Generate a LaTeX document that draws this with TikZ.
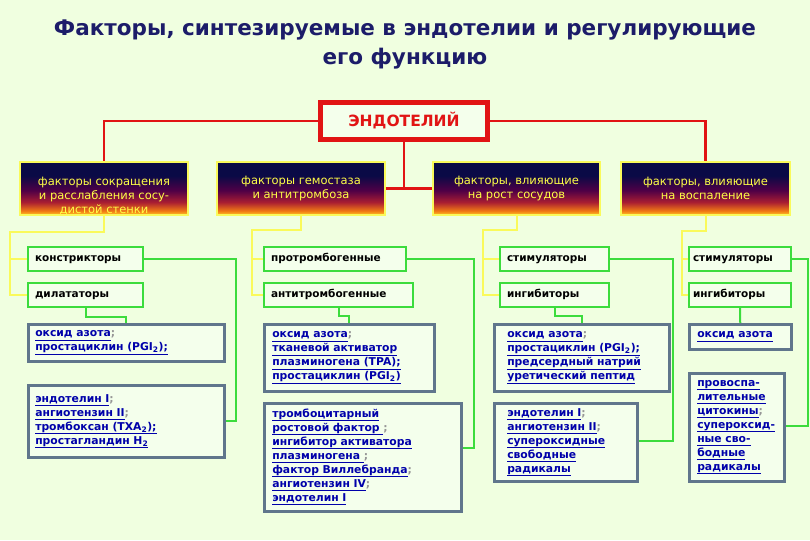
\documentclass[tikz,border=0pt]{standalone}
\usepackage{fontspec}
\setmainfont{DejaVu Sans}
\definecolor{bg}{RGB}{240,255,224}
\definecolor{boxfill}{RGB}{244,255,236}
\definecolor{titleblue}{RGB}{28,28,105}
\definecolor{redln}{RGB}{225,20,20}
\definecolor{yelln}{RGB}{250,250,90}
\definecolor{grnln}{RGB}{60,220,60}
\definecolor{bluebd}{RGB}{96,118,140}
\definecolor{linkblue}{RGB}{0,0,170}
\definecolor{semigray}{RGB}{150,150,150}
\definecolor{hdrtext}{RGB}{255,255,70}
\definecolor{hY}{RGB}{255,200,40}
\definecolor{hO}{RGB}{240,120,20}
\definecolor{hR}{RGB}{170,30,50}
\definecolor{hP}{RGB}{80,0,70}
\definecolor{hN}{RGB}{10,10,70}
\pgfdeclareverticalshading{hdrshade}{100bp}{color(0bp)=(hY); color(25bp)=(hY); color(29bp)=(hO); color(37bp)=(hR); color(48bp)=(hP); color(62bp)=(hN); color(75bp)=(hN); color(100bp)=(hN)}
\newcommand\lnk[1]{\leavevmode\setbox0\hbox{#1}\dp0=2.4pt\vtop{\box0\kern0.3pt\hrule height 1pt}}
\newcommand\sep{\textcolor{semigray}{;}}
\begin{document}
\begin{tikzpicture}[x=1pt,y=-1pt,
  titlestyle/.style={font=\bfseries\fontsize{21.5}{29}\selectfont, text=titleblue, align=center},
  endobox/.style={draw=redln, line width=5pt, fill=boxfill, minimum width=167pt, minimum height=37pt, font=\bfseries\fontsize{15.5}{17}\selectfont, text=redln, inner sep=0pt},
  hdr/.style={draw=yelln, line width=1.5pt, shading=hdrshade, minimum height=53pt, inner sep=0pt, text=hdrtext, align=center, font=\fontsize{11.5}{14}\selectfont},
  subbox/.style={draw=grnln, line width=2pt, fill=boxfill, anchor=north west, minimum height=24pt, inner ysep=0pt, inner xsep=7pt, text height=7pt, text depth=2.5pt, align=left, font=\bfseries\fontsize{10.5}{13}\selectfont},
  bluebox/.style={draw=bluebd, line width=2.5pt, fill=boxfill, anchor=north west, inner ysep=0pt, inner xsep=7pt, align=left, text=linkblue, font=\bfseries\fontsize{10.8}{14}\selectfont},
  redc/.style={draw=redln, line width=2.5pt},
  yelc/.style={draw=yelln, line width=2pt},
  grnc/.style={draw=grnln, line width=2pt}
]
\path[fill=bg] (0,0) rectangle (810,540);
\useasboundingbox (0,0) rectangle (810,540);

\node[titlestyle] (title) at (405,44) {Факторы, синтезируемые в эндотелии и регулирующие\\его функцию};

\node[endobox] (E) at (404,121) {ЭНДОТЕЛИЙ};

\node[hdr, minimum width=168pt, text height=51pt] (H1) at (104,188.5) {факторы сокращения\\и расслабления сосу-\\дистой стенки};
\node[hdr, minimum width=168pt] (H2) at (301,188.5) {факторы гемостаза\\и антитромбоза};
\node[hdr, minimum width=167pt] (H3) at (516.5,188.5) {факторы, влияющие\\на рост сосудов};
\node[hdr, minimum width=169pt] (H4) at (705.5,188.5) {факторы, влияющие\\на воспаление};

% sub boxes
\node[subbox, text width=101pt] (s11) at (27,246) {констрикторы};
\node[subbox, text width=101pt] (s12) at (27,282) {дилататоры};
\node[subbox, text width=128pt] (s21) at (263,246) {протромбогенные};
\node[subbox, text width=135pt] (s22) at (263,282) {антитромбогенные};
\node[subbox, text width=95pt] (s31) at (499,246) {стимуляторы};
\node[subbox, text width=95pt] (s32) at (499,282) {ингибиторы};
\node[subbox, inner xsep=4pt, text width=94pt] (s41) at (688,246) {стимуляторы};
\node[subbox, inner xsep=4pt, text width=94pt] (s42) at (688,282) {ингибиторы};

% blue boxes
\node[bluebox, text width=182pt, minimum height=37pt] (b11) at (27,323) {\lnk{оксид азота}\sep\\\lnk{простациклин (PGI\textsubscript{2});}};
\node[bluebox, text width=182pt, minimum height=72pt] (b12) at (27,384) {\lnk{эндотелин I}\sep\\\lnk{ангиотензин II}\sep\\\lnk{тромбоксан (TXA\textsubscript{2});}\\\lnk{простагландин H\textsubscript{2}}};
\node[bluebox, inner xsep=8pt, text width=154pt, minimum height=67pt] (b21) at (263,323) {\lnk{оксид азота}\sep\\\lnk{тканевой активатор}\\\lnk{плазминогена (TPA);}\\\lnk{простациклин (PGI\textsubscript{2})}};
\node[bluebox, inner xsep=8pt, text width=181pt, minimum height=108pt] (b22) at (263,402) {\lnk{тромбоцитарный}\\\lnk{ростовой фактор }\sep\\\lnk{ингибитор активатора}\\\lnk{плазминогена }\sep\\\lnk{фактор Виллебранда}\sep\\\lnk{ангиотензин IV}\sep\\\lnk{эндотелин I}};
\node[bluebox, inner xsep=13pt, text width=149pt, minimum height=67pt] (b31) at (493,323) {\lnk{оксид азота}\sep\\\lnk{простациклин (PGI\textsubscript{2});}\\\lnk{предсердный натрий}\\\lnk{уретический пептид}};
\node[bluebox, inner xsep=13pt, text width=117pt, minimum height=78pt] (b32) at (493,402) {\lnk{эндотелин I}\sep\\\lnk{ангиотензин II}\sep\\\lnk{супероксидные}\\\lnk{свободные}\\\lnk{радикалы}};
\node[bluebox, inner xsep=8pt, text width=86pt, minimum height=25pt] (b41) at (688,323) {\lnk{оксид азота}};
\node[bluebox, inner xsep=8pt, text width=79pt, minimum height=108pt] (b42) at (688,372) {\lnk{провоспа-}\\\lnk{лительные}\\\lnk{цитокины}\sep\\\lnk{супероксид-}\\\lnk{ные сво-}\\\lnk{бодные}\\\lnk{радикалы}};

% red connectors
\draw[redc] (E.west) -| (H1.north);
\draw[redc] (E.east) -| (H4.north);
\draw[redc] (E.south) -- (E.south |- H2.east);
\draw[redc] (H2.east) -- (H3.west);

% yellow connectors
\coordinate (y1) at (10,232);
\coordinate (y2) at (252,230);
\coordinate (y3) at (483,230);
\coordinate (y4) at (682,231);
\foreach \h/\y/\a/\b in {H1/y1/s11/s12, H2/y2/s21/s22, H3/y3/s31/s32, H4/y4/s41/s42}{
  \draw[yelc] (\h.south) |- (\y) |- (\b.west);
  \draw[yelc] (\y |- \a.west) -- (\a.west);
}

% green connectors
\coordinate (g1) at (236,317);
\coordinate (g2) at (474,448);
\coordinate (g3) at (673,441);
\coordinate (g4) at (808,426);
\coordinate (m1) at (81,317);
\coordinate (m2) at (337,316);
\coordinate (m3) at (553,316);
\draw[grnc] (s11.east) -| (g1 |- b12.east) -- (b12.east);
\draw[grnc] (s21.east) -| (g2) -- (g2 -| b22.east);
\draw[grnc] (s31.east) -| (g3) -- (g3 -| b32.east);
\draw[grnc] (s41.east) -| (g4) -- (g4 -| b42.east);
\draw[grnc] (s12.south) |- (m1 -| b11.north) -- (b11.north);
\draw[grnc] (s22.south) |- (m2 -| b21.north) -- (b21.north);
\draw[grnc] (s32.south) |- (m3 -| b31.north) -- (b31.north);
\draw[grnc] (s42.south) -- (b41.north);
\end{tikzpicture}
\end{document}
